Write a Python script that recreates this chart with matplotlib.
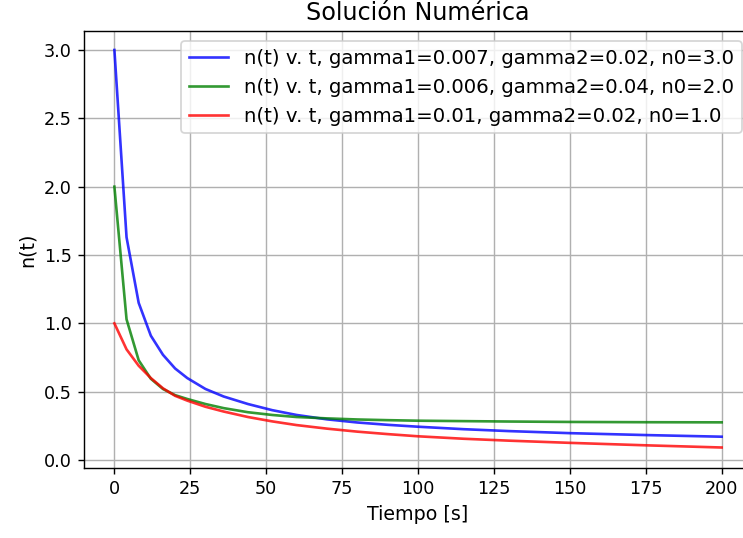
import numpy as np
import matplotlib.pyplot as plt

# tiempos donde se evaluó la solución
t = [0, 4, 8, 12, 16, 20, 24, 30, 36, 44, 52, 60, 70, 80, 90, 100, 115, 130, 150, 175, 200]

n_1 = [3.00, 1.63, 1.15, 0.91, 0.77, 0.67, 0.60, 0.52, 0.465, 0.41, 0.365, 0.33,
       0.298, 0.275, 0.258, 0.244, 0.226, 0.212, 0.197, 0.183, 0.171]
n_2 = [2.00, 1.03, 0.73, 0.595, 0.52, 0.475, 0.447, 0.41, 0.38, 0.35, 0.33, 0.315,
       0.305, 0.297, 0.292, 0.288, 0.285, 0.282, 0.279, 0.277, 0.276]
n_3 = [1.00, 0.81, 0.69, 0.60, 0.525, 0.47, 0.435, 0.39, 0.355, 0.315, 0.283, 0.256,
       0.23, 0.208, 0.19, 0.174, 0.156, 0.142, 0.126, 0.108, 0.092]

etiquetas = ['n(t) v. t, gamma1=0.007, gamma2=0.02, n0=3.0',
             'n(t) v. t, gamma1=0.006, gamma2=0.04, n0=2.0',
             'n(t) v. t, gamma1=0.01, gamma2=0.02, n0=1.0']
colores = ['b', 'g', 'r']

fig = plt.figure(figsize=(743/127, 538/127), dpi=127)
ax = fig.add_axes([0.1131, 0.1301, 0.899, 0.8123])

for n, lab, c in zip([n_1, n_2, n_3], etiquetas, colores):
    ax.plot(t, n, color=c, label=lab, alpha=0.8)

ax.set_xlim(-10, 210)
ax.set_ylim(-0.058, 3.139)
ax.set_title('Solución Numérica', fontsize=13.5)
ax.set_xlabel('Tiempo [s]', fontsize=10.8)
ax.set_ylabel('n(t)', fontsize=10.8)
ax.grid(True)
ax.legend(loc='upper right', fontsize=11.2)

plt.savefig('out.png', dpi=127)
